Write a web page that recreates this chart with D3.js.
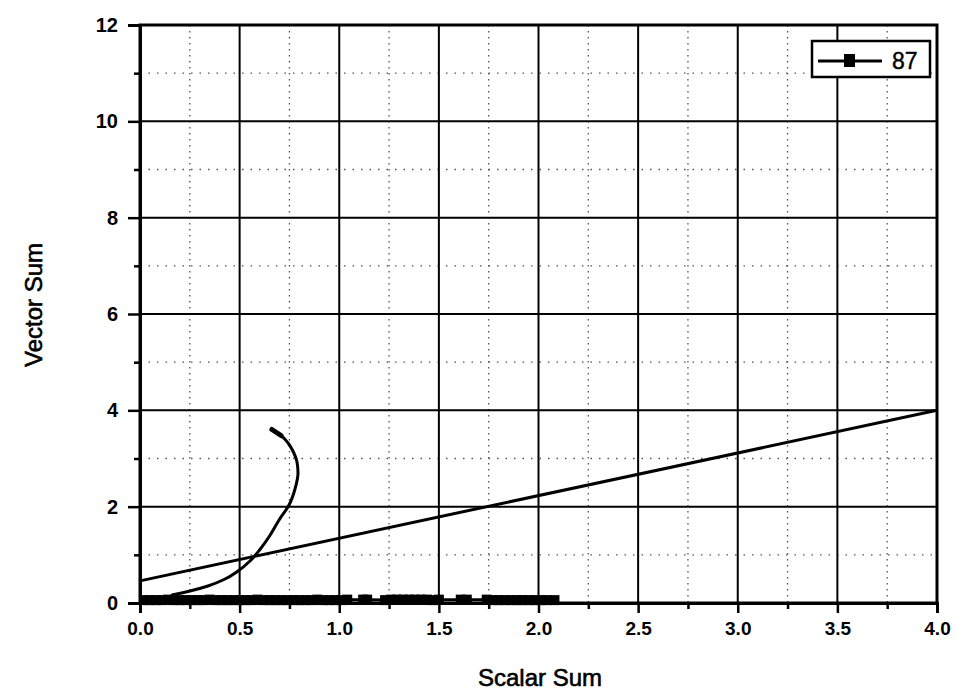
<!DOCTYPE html>
<html>
<head>
<meta charset="utf-8">
<script src="https://cdn.jsdelivr.net/npm/d3@7"></script>
<style>
  html, body { margin: 0; padding: 0; background: #fff; }
  svg { display: block; }
  text { font-family: "Liberation Sans", Arial, sans-serif; fill: #000; }
</style>
</head>
<body>
<svg id="chart" width="964" height="696"></svg>
<script>
// Series "87": scalar sum (x) vs vector sum (y)
const scalar87 = [0.02,0.05,0.08,0.11,0.14,0.17,0.20,0.23,0.26,0.29,0.32,0.35,0.38,0.41,0.44,0.47,0.50,0.53,0.56,0.59,0.62,0.65,0.68,0.71,0.74,0.77,0.80,0.83,0.86,0.89,0.92,0.95,0.98,1.01,1.04,1.12,1.14,1.23,1.26,1.29,1.32,1.35,1.38,1.41,1.44,1.47,1.50,1.61,1.64,1.74,1.77,1.80,1.83,1.86,1.89,1.92,1.95,1.98,2.01,2.04,2.08];
const vector87 = [0.06,0.06,0.06,0.06,0.07,0.06,0.06,0.06,0.06,0.06,0.06,0.07,0.06,0.06,0.06,0.06,0.06,0.06,0.06,0.07,0.06,0.06,0.06,0.06,0.06,0.06,0.06,0.06,0.06,0.07,0.06,0.06,0.06,0.06,0.07,0.07,0.07,0.06,0.07,0.07,0.07,0.07,0.07,0.07,0.07,0.06,0.07,0.07,0.07,0.07,0.06,0.06,0.06,0.06,0.06,0.06,0.06,0.06,0.06,0.06,0.06];

// Curved trace (ordered by rising vector sum)
const curveX = [0.161,0.251,0.341,0.422,0.492,0.552,0.602,0.652,0.698,0.748,0.778,0.793,0.788,0.770,0.743,0.708,0.662];
const curveY = [0.166,0.249,0.353,0.488,0.664,0.872,1.111,1.401,1.723,2.034,2.367,2.699,2.927,3.135,3.322,3.477,3.602];

// Straight reference line
const refX = [0, 4];
const refY = [0.46, 4.0];

// Axis ticks
const xMajor = [0,0.5,1,1.5,2,2.5,3,3.5,4];
const xMinor = [0.25,0.75,1.25,1.75,2.25,2.75,3.25,3.75];
const xTickLabels = ["0.0","0.5","1.0","1.5","2.0","2.5","3.0","3.5","4.0"];
const yMajor = [0,2,4,6,8,10,12];
const yMinor = [1,3,5,7,9,11];
const yTickLabels = ["0","2","4","6","8","10","12"];

const seriesName = "87";
const xTitle = "Scalar Sum";
const yTitle = "Vector Sum";

const svg = d3.select("#chart");
const plotL = 140, plotR = 937, plotT = 25, plotB = 603;

const x = d3.scaleLinear().domain([0, 4]).range([plotL, plotR]);
const y = d3.scaleLinear().domain([0, 12]).range([plotB, plotT]);

// Minor dotted grid
svg.append("g")
  .selectAll("line")
  .data(xMinor).join("line")
  .attr("x1", d => x(d)).attr("x2", d => x(d))
  .attr("y1", plotT).attr("y2", plotB)
  .attr("stroke", "#555").attr("stroke-width", 1.3)
  .attr("stroke-dasharray", "1.5,4.5");
svg.append("g")
  .selectAll("line")
  .data(yMinor).join("line")
  .attr("x1", plotL).attr("x2", plotR)
  .attr("y1", d => y(d)).attr("y2", d => y(d))
  .attr("stroke", "#555").attr("stroke-width", 1.3)
  .attr("stroke-dasharray", "1.5,7");

// Major solid grid
svg.append("g")
  .selectAll("line")
  .data(xMajor.slice(1, -1)).join("line")
  .attr("x1", d => x(d)).attr("x2", d => x(d))
  .attr("y1", plotT).attr("y2", plotB)
  .attr("stroke", "#000").attr("stroke-width", 2);
svg.append("g")
  .selectAll("line")
  .data(yMajor.slice(1, -1)).join("line")
  .attr("x1", plotL).attr("x2", plotR)
  .attr("y1", d => y(d)).attr("y2", d => y(d))
  .attr("stroke", "#000").attr("stroke-width", 2);

// Frame
svg.append("rect")
  .attr("x", plotL).attr("y", plotT)
  .attr("width", plotR - plotL).attr("height", plotB - plotT)
  .attr("fill", "none").attr("stroke", "#000").attr("stroke-width", 3);

// Axes
const xAxis = svg.append("g")
  .attr("transform", `translate(0,${plotB})`)
  .call(d3.axisBottom(x).tickValues(xMajor).tickSize(10).tickPadding(9)
    .tickFormat((d, i) => xTickLabels[i]));
xAxis.select(".domain").attr("stroke-width", 3);
xAxis.selectAll(".tick line").attr("stroke-width", 2.5);
xAxis.selectAll("text").attr("font-size", 19).attr("font-weight", "bold")
  .style("font-family", '"Liberation Sans", Arial, sans-serif');
svg.append("g")
  .attr("transform", `translate(0,${plotB})`)
  .call(d3.axisBottom(x).tickValues(xMinor).tickSize(6).tickFormat(""))
  .call(g => g.select(".domain").remove())
  .selectAll(".tick line").attr("stroke-width", 2.5);

const yAxis = svg.append("g")
  .attr("transform", `translate(${plotL},0)`)
  .call(d3.axisLeft(y).tickValues(yMajor).tickSize(12).tickPadding(10)
    .tickFormat((d, i) => yTickLabels[i]));
yAxis.select(".domain").attr("stroke-width", 3);
yAxis.selectAll(".tick line").attr("stroke-width", 2.5);
yAxis.selectAll("text").attr("font-size", 20).attr("font-weight", "bold")
  .style("font-family", '"Liberation Sans", Arial, sans-serif');
svg.append("g")
  .attr("transform", `translate(${plotL},0)`)
  .call(d3.axisLeft(y).tickValues(yMinor).tickSize(6).tickFormat(""))
  .call(g => g.select(".domain").remove())
  .selectAll(".tick line").attr("stroke-width", 2.5);

// Reference line
const line = d3.line().x(d => x(d[0])).y(d => y(d[1]));
svg.append("path")
  .datum(d3.zip(refX, refY))
  .attr("d", line)
  .attr("fill", "none").attr("stroke", "#000").attr("stroke-width", 3);

// Curved trace
const curvePts = d3.zip(curveX, curveY);
svg.append("path")
  .datum(curvePts)
  .attr("d", d3.line().x(d => x(d[0])).y(d => y(d[1])).curve(d3.curveMonotoneY))
  .attr("fill", "none").attr("stroke", "#000").attr("stroke-width", 3)
  .attr("stroke-linecap", "round");
svg.append("path")
  .datum(curvePts.slice(-2))
  .attr("d", d3.line().x(d => x(d[0])).y(d => y(d[1])).curve(d3.curveMonotoneY))
  .attr("fill", "none").attr("stroke", "#000").attr("stroke-width", 5)
  .attr("stroke-linecap", "round");

// Series 87 line with square markers
const pts87 = d3.zip(scalar87, vector87);
svg.append("path")
  .datum(pts87)
  .attr("d", line)
  .attr("fill", "none").attr("stroke", "#000").attr("stroke-width", 3);
const ms = 10;
svg.append("g")
  .selectAll("rect")
  .data(pts87).join("rect")
  .attr("x", d => x(d[0]) - ms / 2)
  .attr("y", d => y(d[1]) - ms / 2)
  .attr("width", ms).attr("height", ms)
  .attr("fill", "#000");

// Legend
const lg = svg.append("g");
lg.append("rect")
  .attr("x", 812).attr("y", 41).attr("width", 118).attr("height", 36)
  .attr("fill", "#fff").attr("stroke", "#000").attr("stroke-width", 2.5);
lg.append("line")
  .attr("x1", 818).attr("x2", 882).attr("y1", 61).attr("y2", 61)
  .attr("stroke", "#000").attr("stroke-width", 3);
lg.append("rect")
  .attr("x", 844).attr("y", 54).attr("width", 11).attr("height", 13)
  .attr("fill", "#000");
lg.append("text")
  .attr("x", 892).attr("y", 69)
  .attr("font-size", 23)
  .attr("stroke", "#000").attr("stroke-width", 0.4)
  .text(seriesName);

// Axis titles
svg.append("text")
  .attr("x", 540).attr("y", 686)
  .attr("text-anchor", "middle")
  .attr("font-size", 24)
  .attr("stroke", "#000").attr("stroke-width", 0.6)
  .text(xTitle);
svg.append("text")
  .attr("transform", "translate(42,305) rotate(-90)")
  .attr("text-anchor", "middle")
  .attr("font-size", 24)
  .attr("stroke", "#000").attr("stroke-width", 0.6)
  .text(yTitle);
</script>
</body>
</html>
